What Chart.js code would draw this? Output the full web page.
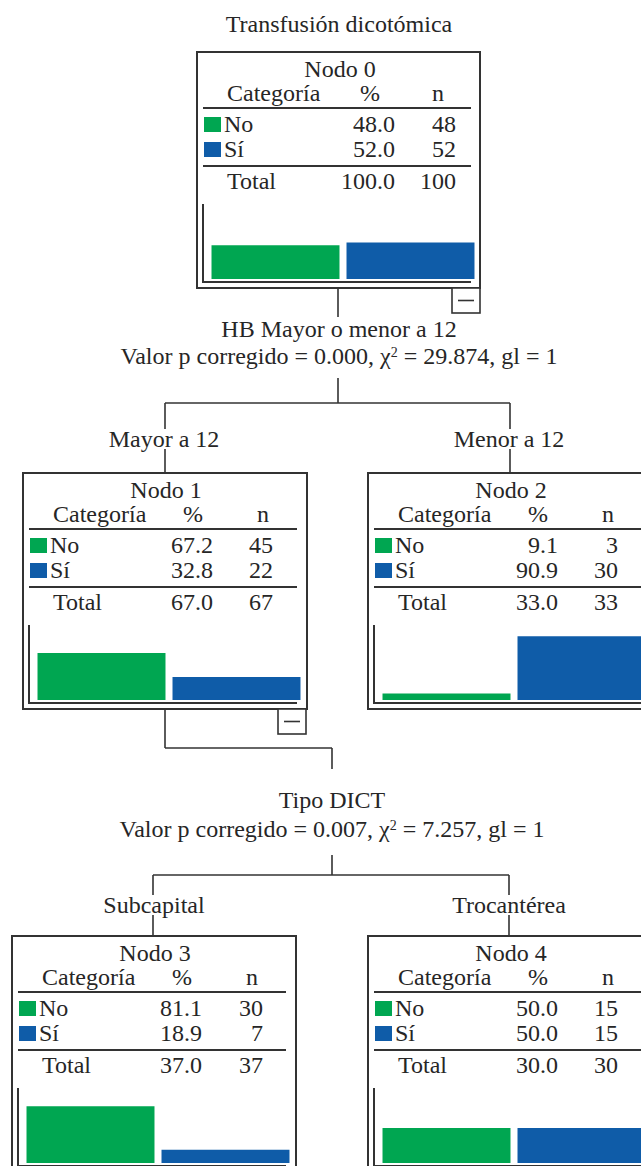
<!DOCTYPE html>
<html><head><meta charset="utf-8">
<script src="https://cdn.jsdelivr.net/npm/chart.js@4.4.0/dist/chart.umd.min.js"></script>
<style>
html,body{margin:0;padding:0;background:#fff;width:641px;height:1166px;overflow:hidden;}
#stage{position:relative;width:641px;height:1166px;overflow:hidden;}
svg{position:absolute;left:0;top:0;}
svg text{font-family:"Liberation Serif","Times New Roman",serif;}
canvas{position:absolute;}
</style></head><body><div id="stage"><svg id="svg" width="641" height="1166" xmlns="http://www.w3.org/2000/svg"></svg></div>
<script>
// ---- data ----
const title = 'Transfusión dicotómica';
const categories = ['No', 'Sí'];
const nodeNames = ['Nodo 0', 'Nodo 1', 'Nodo 2', 'Nodo 3', 'Nodo 4'];
const pctNo = [48.0, 67.2, 9.1, 81.1, 50.0];
const pctSi = [52.0, 32.8, 90.9, 18.9, 50.0];
const nNo = [48, 45, 3, 30, 15];
const nSi = [52, 22, 30, 7, 15];
const totalPct = [100.0, 67.0, 33.0, 37.0, 30.0];
const totalN = [100, 67, 33, 37, 30];
const splitNames = ['HB Mayor o menor a 12', 'Tipo DICT'];
const splitP = ['0.000', '0.007'];
const splitChi = ['29.874', '7.257'];
const splitGl = [1, 1];
const branchLabels = ['Mayor a 12', 'Menor a 12', 'Subcapital', 'Trocantérea'];

// ---- style / layout ----
const colors = ['#00a651', '#0f5ca8'];
const ink = '#262626';
const lineCol = '#333';
const FONT = '"Liberation Serif","Times New Roman",serif';
const FS = 24;
const boxes = [
  {x:197, y:52,  w:283},
  {x:23,  y:473, w:284},
  {x:368, y:473, w:284},
  {x:12,  y:936, w:284},
  {x:368, y:936, w:284}
];
const BOXH = 236;
const pctRight = [198, 190, 190, 190, 190];
const nRight   = [259, 250, 250, 251, 250];
const pctHead  = [173, 170, 170, 170, 170];
const nHead    = [241, 240, 240, 240, 240];
const collapse = [true, true, false, false, false];

const svg = document.getElementById('svg');
const NS = 'http://www.w3.org/2000/svg';
function el(tag, attrs, parent) {
  const e = document.createElementNS(NS, tag);
  for (const k in attrs) e.setAttribute(k, attrs[k]);
  (parent || svg).appendChild(e);
  return e;
}
function line(x1, y1, x2, y2, w) {
  return el('line', {x1, y1, x2, y2, stroke: lineCol, 'stroke-width': w || 1.6});
}
function text(x, y, str, anchor, size, bg) {
  const t = el('text', {x, y, 'text-anchor': anchor || 'start',
    'font-size': size || FS, fill: ink});
  t.textContent = str;
  if (bg) {
    const b = t.getBBox();
    const r = el('rect', {x: b.x - 1, y: b.y + 3, width: b.width + 2, height: b.height - 6, fill: '#fff'});
    svg.insertBefore(r, t);
  }
  return t;
}

// title
text(339, 32, title, 'middle');

// connectors (drawn first so labels cover them)
line(338, 288, 338, 317);
line(338, 378, 338, 403);
line(165, 403, 510, 403);
line(165, 403, 165, 473);
line(510, 403, 510, 473);
line(165, 709, 165, 748);
line(165, 748, 332, 748);
line(332, 748, 332, 769);
line(332, 855, 332, 875);
line(153, 875, 509, 875);
line(153, 875, 153, 936);
line(509, 875, 509, 936);

// split descriptions
function splitText(cx, y1, y2, i) {
  text(cx, y1, splitNames[i], 'middle');
  const t = el('text', {x: cx, y: y2, 'text-anchor': 'middle', 'font-size': FS, fill: ink});
  const a = el('tspan', {}, t); a.textContent = 'Valor p corregido = ' + splitP[i] + ', χ';
  const s = el('tspan', {'baseline-shift': 'super', 'font-size': 14}, t); s.textContent = '2';
  const c = el('tspan', {}, t); c.textContent = ' = ' + splitChi[i] + ', gl = ' + splitGl[i];
}
splitText(339, 337, 364, 0);
splitText(332, 808, 837, 1);

// branch labels
text(164, 447, branchLabels[0], 'middle', FS, true);
text(509, 447, branchLabels[1], 'middle', FS, true);
text(154, 913, branchLabels[2], 'middle', FS, true);
text(509, 913, branchLabels[3], 'middle', FS, true);

// nodes
boxes.forEach((b, i) => {
  const L = b.x, T = b.y;
  el('rect', {x: L, y: T, width: b.w, height: BOXH, fill: '#fff', stroke: lineCol, 'stroke-width': 2});
  text(L + 143, T + 25, nodeNames[i], 'middle');
  text(L + 30, T + 49, 'Categoría');
  text(L + pctHead[i], T + 49, '%', 'middle');
  text(L + nHead[i], T + 49, 'n', 'middle');
  line(L + 6, T + 56, L + 274, T + 56, 2);
  el('rect', {x: L + 7, y: T + 65, width: 17, height: 15, fill: colors[0]});
  el('rect', {x: L + 7, y: T + 90, width: 17, height: 15, fill: colors[1]});
  text(L + 27, T + 80, categories[0]);
  text(L + 27, T + 105, categories[1]);
  text(L + pctRight[i], T + 80, pctNo[i].toFixed(1), 'end');
  text(L + pctRight[i], T + 105, pctSi[i].toFixed(1), 'end');
  text(L + nRight[i], T + 80, String(nNo[i]), 'end');
  text(L + nRight[i], T + 105, String(nSi[i]), 'end');
  line(L + 6, T + 114, L + 274, T + 114, 2);
  text(L + 30, T + 137, 'Total');
  text(L + pctRight[i], T + 137, totalPct[i].toFixed(1), 'end');
  text(L + nRight[i], T + 137, String(totalN[i]), 'end');
  if (collapse[i]) {
    el('rect', {x: L + 255, y: T + BOXH, width: 28, height: 25, fill: '#fff', stroke: lineCol, 'stroke-width': 1.6});
    line(L + 261, T + BOXH + 12.5, L + 277, T + BOXH + 12.5, 1.6);
  }

  // bar chart
  const cv = document.createElement('canvas');
  const CW = 284, CH = 100, CT = T + 140;
  cv.width = CW; cv.height = CH;
  cv.style.left = L + 'px'; cv.style.top = CT + 'px';
  cv.style.width = CW + 'px'; cv.style.height = CH + 'px';
  document.getElementById('stage').appendChild(cv);
  const axisPlugin = {
    id: 'axisL',
    afterDraw(chart) {
      const a = chart.chartArea, ctx = chart.ctx;
      ctx.save();
      ctx.strokeStyle = lineCol; ctx.lineWidth = 2;
      ctx.beginPath();
      ctx.moveTo(a.left - 5, a.top);
      ctx.lineTo(a.left - 5, a.bottom + 3);
      ctx.lineTo(a.right - 7, a.bottom + 3);
      ctx.stroke();
      ctx.restore();
    }
  };
  new Chart(cv, {
    type: 'bar',
    data: {labels: categories, datasets: [{data: [pctNo[i], pctSi[i]], backgroundColor: colors,
      barPercentage: 0.948, categoryPercentage: 1, borderWidth: 0}]},
    options: {
      responsive: false, animation: false, devicePixelRatio: 1,
      layout: {padding: {left: 11, right: 3, top: 12, bottom: CH - (227 - 140)}},
      plugins: {legend: {display: false}, tooltip: {enabled: false}},
      scales: {
        x: {display: false, offset: true},
        y: {display: false, min: 0, max: 107}
      }
    },
    plugins: [axisPlugin]
  });
});
</script></body></html>
